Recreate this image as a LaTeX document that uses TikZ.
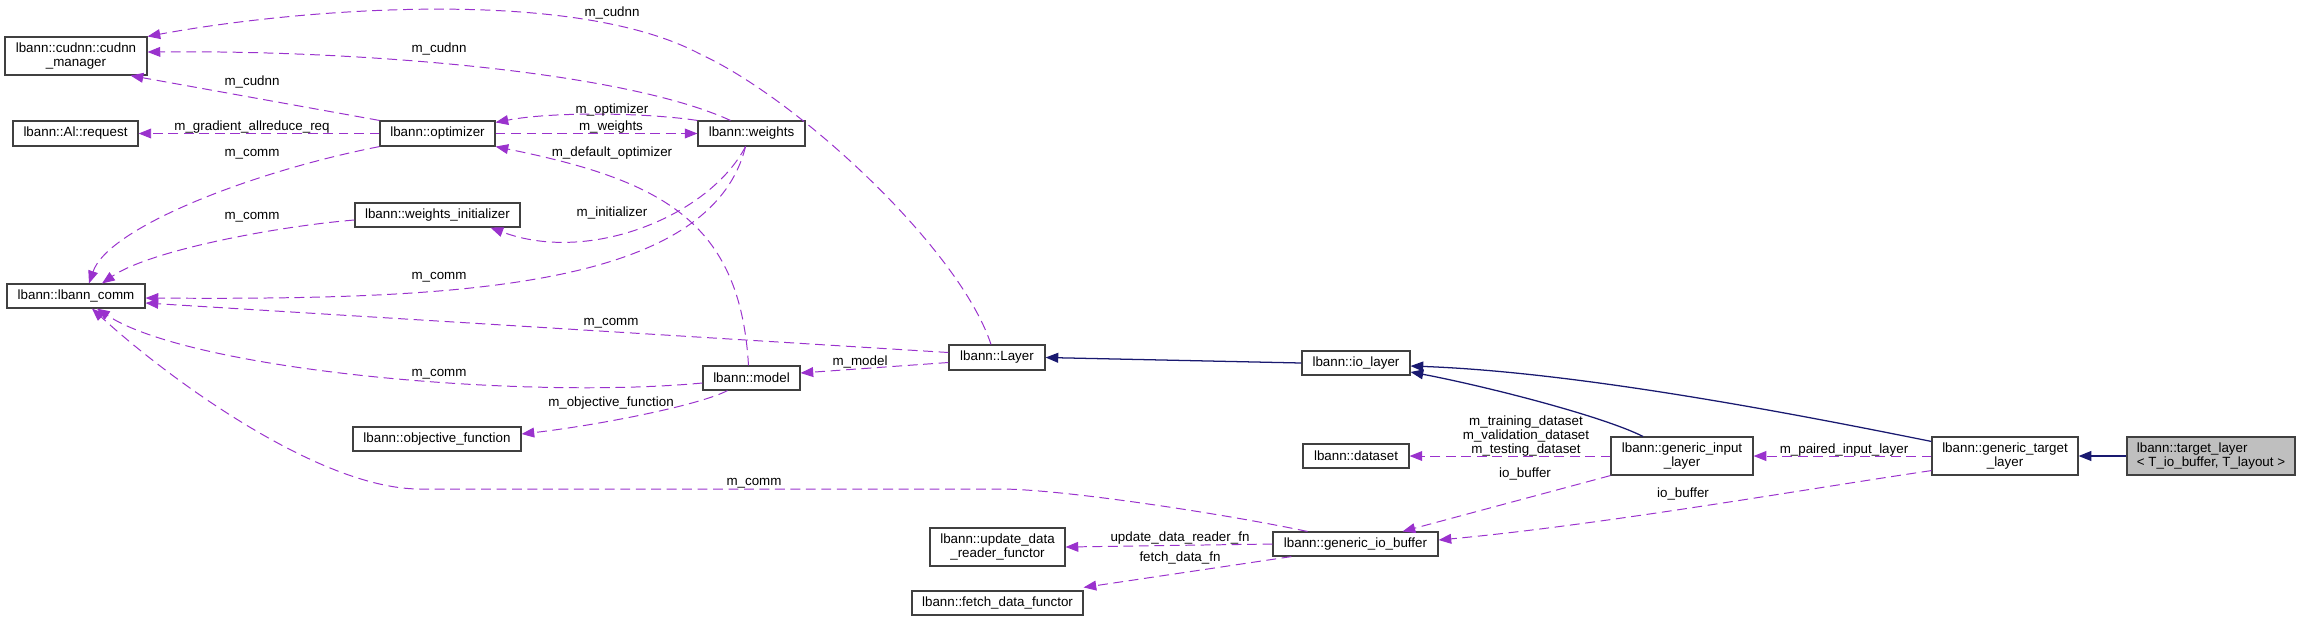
\documentclass[tikz,border=0pt]{standalone}
\usepackage{fontspec}
\setmainfont{Liberation Sans}
\usetikzlibrary{arrows.meta,calc,positioning}
\definecolor{UseCol}{HTML}{9A32CD}
\definecolor{InhCol}{HTML}{191970}
\definecolor{BoxLine}{HTML}{404040}
\definecolor{FocusFill}{HTML}{BFBFBF}

\begin{document}
\begin{tikzpicture}[x=0.025cm, y=-0.025cm,
  every node/.style={font=\fontsize{9.5}{10}\selectfont},
  cls/.style={draw=BoxLine, line width=0.8pt, fill=white, inner sep=1pt, align=center, minimum height=0.6cm},
  usage/.style={draw=UseCol, line width=0.7pt, dash pattern=on 7pt off 4pt, -{Triangle[length=9pt,width=7pt]}},
  inherit/.style={draw=InhCol, line width=0.9pt, -{Triangle[length=9pt,width=7pt]}},
  lbl/.style={inner sep=0pt, align=center}]
  \useasboundingbox (0,0) rectangle (2303,621);
  % classes
  \node[cls, minimum width=3.55cm, minimum height=0.95cm] (cudnn) at (76,56) {lbann::cudnn::cudnn\\\_manager};
  \node[cls, minimum width=3.125cm, minimum height=0.625cm] (airequest) at (75.5,133.5) {lbann::Al::request};
  \node[cls, minimum width=2.875cm, minimum height=0.625cm] (optimizer) at (437.5,133.5) {lbann::optimizer};
  \node[cls, minimum width=2.675cm, minimum height=0.625cm] (weights) at (751.5,133.5) {lbann::weights};
  \node[cls, minimum width=4.125cm] (winit) at (437.5,215) {lbann::weights\_initializer};
  \node[cls, minimum width=3.45cm] (comm) at (76,296) {lbann::lbann\_comm};
  \node[cls, minimum width=2.425cm] (model) at (751.5,378) {lbann::model};
  \node[cls, minimum width=4.2cm] (objfun) at (437,439) {lbann::objective\_function};
  \node[cls, minimum width=2.4cm, minimum height=0.625cm] (layer) at (997,357.5) {lbann::Layer};
  \node[cls, minimum width=2.7cm] (iolayer) at (1356,363) {lbann::io\_layer};
  \node[cls, minimum width=2.65cm] (dataset) at (1356,456) {lbann::dataset};
  \node[cls, minimum width=4.125cm] (iobuf) at (1355.5,544) {lbann::generic\_io\_buffer};
  \node[cls, minimum width=3.375cm, minimum height=0.95cm] (updfun) at (997.5,547) {lbann::update\_data\\\_reader\_functor};
  \node[cls, minimum width=4.275cm] (fetchfun) at (997.5,603) {lbann::fetch\_data\_functor};
  \node[cls, minimum width=3.55cm, minimum height=0.95cm] (ginput) at (1682,456) {lbann::generic\_input\\\_layer};
  \node[cls, minimum width=3.65cm, minimum height=0.95cm] (gtarget) at (2005,456) {lbann::generic\_target\\\_layer};
  \node[cls, fill=FocusFill, align=left, minimum width=4.2cm, minimum height=0.95cm] (target) at (2211,456)
    {lbann::target\_layer\\\textless{} T\_io\_buffer, T\_layout \textgreater};

  % usage relations
  \draw[usage] ($(layer.north)+(-6,0)$) .. controls (960,250) and (800,100) .. (700,54)
    .. controls (570,-15) and (290,10) .. (cudnn.north east);
  \draw[usage] ($(weights.north)+(-21,0)$) .. controls (620,70) and (350,50) .. ($(cudnn.east)+(0,-4)$);
  \draw[usage] (optimizer.north west) -- ($(cudnn.south east)+(-17,0)$);
  \draw[usage] (optimizer.west) -- (airequest.east);
  \draw[usage] (weights.north west) .. controls (640,112) and (550,112) .. ($(optimizer.north east)+(0,2)$);
  \draw[usage] (optimizer.east) -- (weights.west);
  \draw[usage] ($(model.north)+(-3,0)$) .. controls (740,220) and (660,180) .. (optimizer.south east);
  \draw[usage] (optimizer.south west) .. controls (250,172) and (108,228) .. ($(comm.north)+(13,0)$);
  \draw[usage] ($(winit.west)+(0,5)$) .. controls (280,226) and (150,250) .. ($(comm.north)+(26,0)$);
  \draw[usage] ($(weights.south)+(-6,0)$) .. controls (710,215) and (590,265) .. ($(winit.south)+(53,0)$);
  \draw[usage] ($(weights.south)+(-6,0)$) .. controls (710,290) and (450,300) .. ($(comm.east)+(0,2)$);
  \draw[usage] ($(layer.west)+(0,-5)$) -- ($(comm.east)+(0,7)$);
  \draw[usage] ($(model.west)+(0,5)$) .. controls (520,400) and (190,370) .. ($(comm.south)+(21,0)$);
  \draw[usage] ($(iobuf.north)+(-48,0)$) .. controls (1220,513) and (1060,489) .. (1000,489) -- (420,489)
    .. controls (320,489) and (170,380) .. ($(comm.south)+(16,0)$);
  \draw[usage] ($(layer.west)+(0,5)$) -- ($(model.east)+(0,-5)$);
  \draw[usage] ($(model.south)+(-24,0)$) .. controls (700,405) and (600,425) .. ($(objfun.east)+(0,-5)$);
  \draw[usage] (gtarget.west) -- (ginput.east);
  \draw[usage] (ginput.west) -- (dataset.east);
  \draw[usage] (ginput.south west) -- ($(iobuf.north east)+(-36,0)$);
  \draw[usage] ($(gtarget.south west)+(0,-5)$) .. controls (1800,490) and (1600,525) .. ($(iobuf.east)+(0,-4)$);
  \draw[usage] (iobuf.west) -- (updfun.east);
  \draw[usage] ($(iobuf.south west)+(19,0)$) -- ($(fetchfun.north east)+(0,-3)$);

  % inheritance
  \draw[inherit] (iolayer.west) -- (layer.east);
  \draw[inherit] ($(ginput.north)+(-39,0)$) .. controls (1600,415) and (1480,385) .. ($(iolayer.east)+(0,9)$);
  \draw[inherit] ($(gtarget.north west)+(0,5)$) .. controls (1800,415) and (1580,372) .. ($(iolayer.east)+(0,3)$);
  \draw[inherit] (target.west) -- (gtarget.east);

  % member names
  \node[lbl] (lcudnnA) at (612,13) {m\_cudnn};
  \node[lbl] (lcudnnB) at (439,49) {m\_cudnn};
  \node[lbl] (lcudnnC) at (252,82) {m\_cudnn};
  \node[lbl] (lgrad) at (252,127) {m\_gradient\_allreduce\_req};
  \node[lbl] (lopt) at (612,110) {m\_optimizer};
  \node[lbl] (lweights) at (611,127) {m\_weights};
  \node[lbl] (lcommA) at (252,154) {m\_comm};
  \node[lbl] (ldefopt) at (612,153) {m\_default\_optimizer};
  \node[lbl] (lcommB) at (252,217) {m\_comm};
  \node[lbl] (linit) at (612,213) {m\_initializer};
  \node[lbl] (lcommC) at (439,277) {m\_comm};
  \node[lbl] (lcommD) at (611,323) {m\_comm};
  \node[lbl] (lcommE) at (439,374) {m\_comm};
  \node[lbl] (lobj) at (611,403) {m\_objective\_function};
  \node[lbl] (lcommF) at (754,483) {m\_comm};
  \node[lbl] (lmodel) at (860,362) {m\_model};
  \node[lbl] (lupd) at (1180,538) {update\_data\_reader\_fn};
  \node[lbl] (lfetch) at (1180,558) {fetch\_data\_fn};
  \node[lbl] (ldata) at (1526,436) {m\_training\_dataset\\m\_validation\_dataset\\m\_testing\_dataset};
  \node[lbl] (lbufA) at (1525,474) {io\_buffer};
  \node[lbl] (lbufB) at (1683,494) {io\_buffer};
  \node[lbl] (lpaired) at (1844,450) {m\_paired\_input\_layer};
\end{tikzpicture}
\end{document}
